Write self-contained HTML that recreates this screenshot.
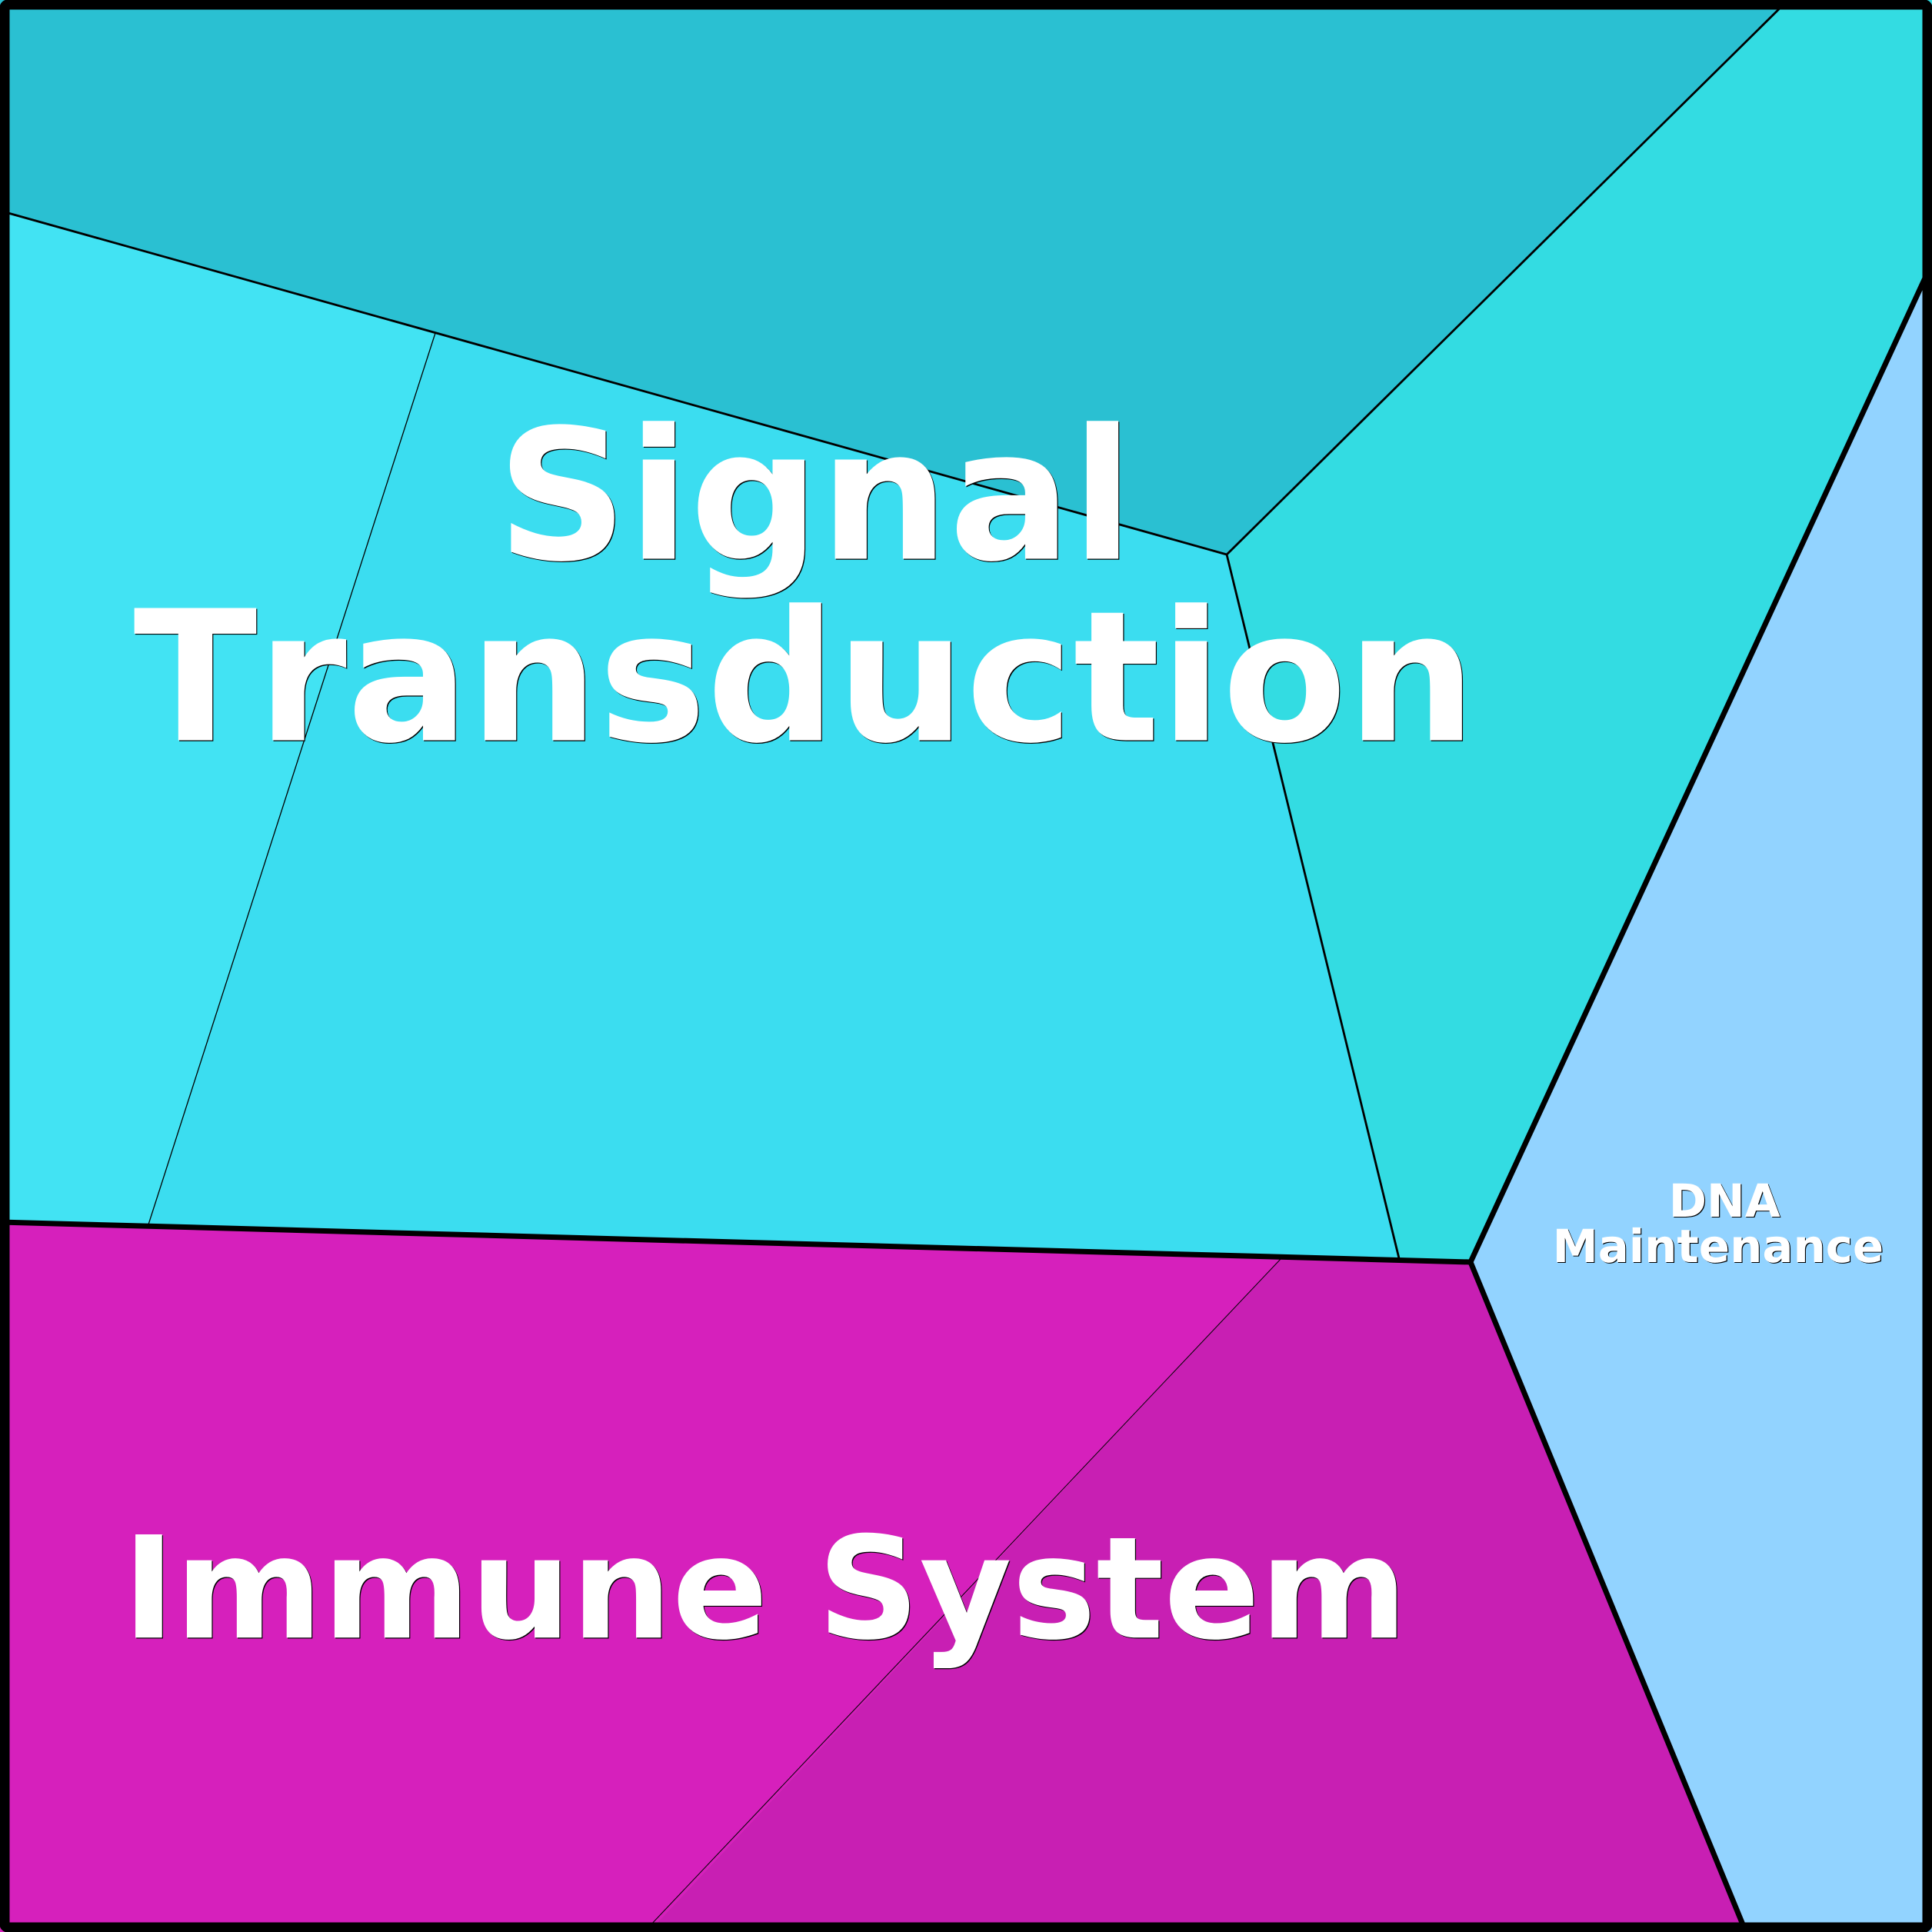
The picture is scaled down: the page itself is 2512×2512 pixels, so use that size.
<!DOCTYPE html>
<html><head><meta charset="utf-8"><style>
html,body{margin:0;padding:0;background:#000}
svg{display:block}
text{font-family:"DejaVu Sans","Liberation Sans",sans-serif;font-weight:bold;font-kerning:none;text-rendering:geometricPrecision}
</style></head><body>
<svg xmlns="http://www.w3.org/2000/svg" width="2512" height="2512" viewBox="0 0 2512 2512">
<rect width="2512" height="2512" fill="#666"/>
<polygon points="0,274 1595,721 2325,0 0,0" fill="#2AC0D2"/>
<polygon points="2325,0 1595,721 1819,1636 1912,1641 2512,342 2512,0" fill="#33DCE2"/>
<polygon points="566,433 1595,721 1819,1636 193,1592" fill="#3BDDF0"/>
<polygon points="0,274 566,433 193,1592 0,1589" fill="#42E3F3"/>
<polygon points="0,1589 1666,1636 844,2512 0,2512" fill="#D620BC"/>
<polygon points="1666,1636 1912,1641 2270,2512 844,2512" fill="#C81FB3"/>
<polygon points="1912,1641 2512,342 2512,2512 2270,2512" fill="#92D3FF"/>
<g fill="none" stroke="#000" stroke-linecap="round">
<path d="M0,274 L1595,721 L2325,0 M1595,721 L1819,1636" stroke-width="2.8"/>
<path d="M566,433 L193,1592" stroke-width="1.3"/>
<path d="M1666,1636 L844,2505" stroke-width="1"/>
<path d="M0,1589 L1912,1641 L2512,342 M1912,1641 L2270,2512" stroke-width="7"/>
</g>
<rect x="6" y="6" width="2500" height="2500" rx="4" fill="none" stroke="#000" stroke-width="13"/>
<g fill="#000">
<text x="647.2" y="727.7" font-size="236">Signal</text>
<text x="174.7" y="963.7" font-size="236">Transduction</text>
<text x="160.4" y="2130.5" font-size="184.2">Immune System</text>
<text x="2170.9" y="1583" font-size="59.4">DNA</text>
<text x="2019.8" y="1642" font-size="59.4">Maintenance</text>
</g>
<g fill="#fff">
<text x="646" y="726.5" font-size="236">Signal</text>
<text x="173.5" y="962.5" font-size="236">Transduction</text>
<text x="159.2" y="2129.3" font-size="184.2">Immune System</text>
<text x="2169.7" y="1581.8" font-size="59.4">DNA</text>
<text x="2018.6" y="1640.8" font-size="59.4">Maintenance</text>
</g>
</svg>
</body></html>
